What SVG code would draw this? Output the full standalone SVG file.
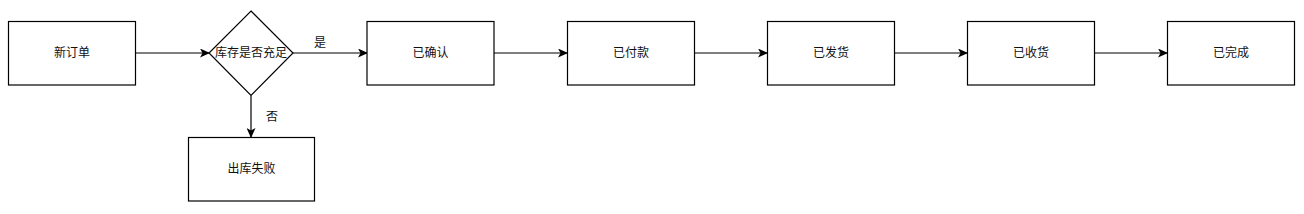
<svg xmlns="http://www.w3.org/2000/svg" width="1304" height="214" viewBox="0 0 1304 214">
<style>
.box{fill:#fff;stroke:#000;stroke-width:1.2}
.lbl{font-family:"Liberation Sans","Noto Sans CJK SC",sans-serif;font-size:12px;fill:#111;text-anchor:middle;dominant-baseline:central}
.edge{fill:none;stroke:#000;stroke-width:1.2}
</style>
<defs>
<marker id="arr" viewBox="0 0 10 10" refX="9" refY="5" markerWidth="10" markerHeight="9" markerUnits="userSpaceOnUse" orient="auto" preserveAspectRatio="none">
<path d="M0,0 L10,5 L0,10 L2.5,5 Z" fill="#000"/>
</marker>
</defs>
<g id="edges">
<path class="edge" d="M135.5,53 L209,53" marker-end="url(#arr)"/>
<path class="edge" d="M293,53 L367,53" marker-end="url(#arr)"/>
<path class="edge" d="M251,95.5 L251,137" marker-end="url(#arr)"/>
<path class="edge" d="M494,53 L567,53" marker-end="url(#arr)"/>
<path class="edge" d="M694,53 L767,53" marker-end="url(#arr)"/>
<path class="edge" d="M894,53 L967,53" marker-end="url(#arr)"/>
<path class="edge" d="M1094,53 L1167,53" marker-end="url(#arr)"/>
<text class="lbl" x="320" y="43">是</text>
<text class="lbl" x="272" y="117">否</text>
</g>
<g id="n-new"><rect class="box" x="8.5" y="21.5" width="127" height="63.5"/><text class="lbl" x="72" y="53">新订单</text></g>
<g id="n-stock"><path class="box" d="M251,11 L293,53 L251,95.5 L209,53 Z"/><text class="lbl" x="251" y="53">库存是否充足</text></g>
<g id="n-fail"><rect class="box" x="188.5" y="137.5" width="126" height="63.5"/><text class="lbl" x="251.5" y="169">出库失败</text></g>
<g id="n-confirmed"><rect class="box" x="367" y="21.5" width="127" height="63.5"/><text class="lbl" x="430.5" y="53">已确认</text></g>
<g id="n-paid"><rect class="box" x="567.5" y="21.5" width="127" height="63.5"/><text class="lbl" x="631" y="53">已付款</text></g>
<g id="n-shipped"><rect class="box" x="767.5" y="21.5" width="127" height="63.5"/><text class="lbl" x="831" y="53">已发货</text></g>
<g id="n-received"><rect class="box" x="967.5" y="21.5" width="127" height="63.5"/><text class="lbl" x="1031" y="53">已收货</text></g>
<g id="n-done"><rect class="box" x="1167.5" y="21.5" width="127" height="63.5"/><text class="lbl" x="1231" y="53">已完成</text></g>
</svg>
